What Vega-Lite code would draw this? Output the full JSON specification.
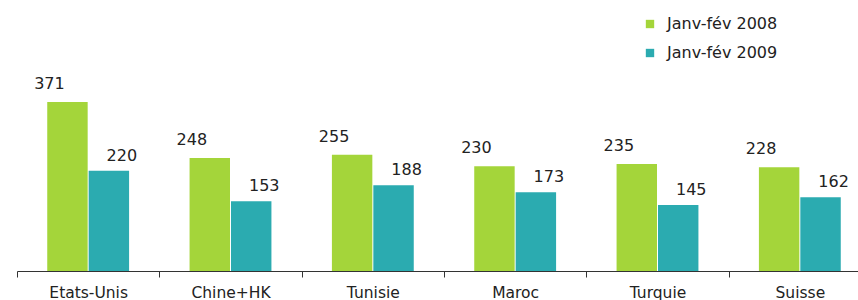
{
  "$schema": "https://vega.github.io/schema/vega-lite/v6.json",
  "width": 854,
  "height": 271,
  "padding": {"left": 16, "top": 0, "right": 0, "bottom": 0},
  "background": "white",
  "config": {"view": {"stroke": null}, "font": "DejaVu Sans"},
  "data": {"values": [
    {"pays": "Etats-Unis", "periode": "Janv-fév 2008", "valeur": 371},
    {"pays": "Etats-Unis", "periode": "Janv-fév 2009", "valeur": 220},
    {"pays": "Chine+HK", "periode": "Janv-fév 2008", "valeur": 248},
    {"pays": "Chine+HK", "periode": "Janv-fév 2009", "valeur": 153},
    {"pays": "Tunisie", "periode": "Janv-fév 2008", "valeur": 255},
    {"pays": "Tunisie", "periode": "Janv-fév 2009", "valeur": 188},
    {"pays": "Maroc", "periode": "Janv-fév 2008", "valeur": 230},
    {"pays": "Maroc", "periode": "Janv-fév 2009", "valeur": 173},
    {"pays": "Turquie", "periode": "Janv-fév 2008", "valeur": 235},
    {"pays": "Turquie", "periode": "Janv-fév 2009", "valeur": 145},
    {"pays": "Suisse", "periode": "Janv-fév 2008", "valeur": 228},
    {"pays": "Suisse", "periode": "Janv-fév 2009", "valeur": 162}
  ]},
  "encoding": {
    "x": {
      "field": "pays", "type": "nominal", "sort": null,
      "scale": {"paddingInner": 0, "paddingOuter": 0},
      "axis": {
        "title": null, "labelAngle": 0, "labelFontSize": 15.5, "labelColor": "#222",
        "labelPadding": 8, "tickBand": "extent", "tickSize": 6, "tickColor": "#333",
        "domainColor": "#333", "domainWidth": 1.2, "labelFont": "DejaVu Sans"
      }
    },
    "xOffset": {
      "field": "periode", "type": "nominal",
      "scale": {"paddingInner": 0.024, "paddingOuter": 0.73}
    },
    "y": {
      "field": "valeur", "type": "quantitative",
      "scale": {"domain": [0, 595], "nice": false},
      "axis": null
    }
  },
  "layer": [
    {
      "mark": {"type": "bar"},
      "encoding": {
        "color": {
          "field": "periode", "type": "nominal",
          "scale": {"range": ["#a4d53a", "#2babb0"]},
          "legend": {
            "title": null, "orient": "none", "legendX": 625, "legendY": 16,
            "symbolType": "square", "symbolSize": 70, "labelFontSize": 16,
            "labelColor": "#222", "rowPadding": 13, "labelOffset": 9
          }
        }
      }
    },
    {
      "transform": [{"filter": "datum.periode === 'Janv-fév 2008'"}],
      "mark": {"type": "text", "dy": -10, "dx": -18, "baseline": "bottom", "fontSize": 16, "color": "#222"},
      "encoding": {"text": {"field": "valeur", "type": "quantitative"}}
    },
    {
      "transform": [{"filter": "datum.periode === 'Janv-fév 2009'"}],
      "mark": {"type": "text", "dy": -7, "dx": 13, "baseline": "bottom", "fontSize": 16, "color": "#222"},
      "encoding": {"text": {"field": "valeur", "type": "quantitative"}}
    }
  ]
}
